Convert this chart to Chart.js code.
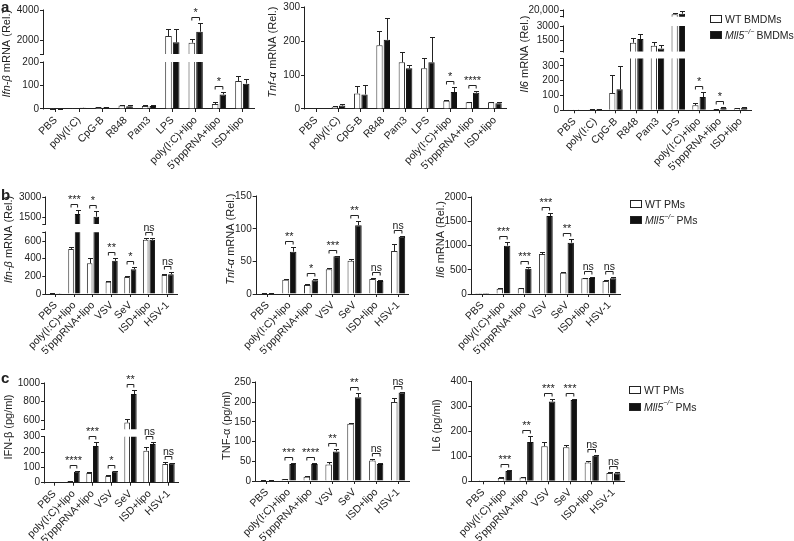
<!DOCTYPE html>
<html>
<head>
<meta charset="utf-8">
<script src="https://cdn.jsdelivr.net/npm/chart.js@4.4.1/dist/chart.umd.min.js"></script>
<style>
  body { margin: 0; background: #fff; width: 794px; height: 541px; overflow: hidden; position: relative;
         font-family: "Liberation Sans", Arial, Helvetica, sans-serif; color: #222; }
  canvas { position: absolute; left: 0; top: 0; }
  .letter { position: absolute; font-weight: bold; font-size: 15px; line-height: 1; }
  .legend { position: absolute; font-size: 10.5px; }
  .legend div { display: flex; align-items: center; white-space: nowrap; }
  .sw { display: inline-block; width: 12px; height: 8px; border: 1px solid #222; box-sizing: border-box; margin-right: 3px; background: #fff; }
  .sw.ko { background: #111; }
  .sup { font-size: 7px; position: relative; top: -4px; font-style: italic; margin-right: 2px; }
</style>
</head>
<body>
<canvas id="a1" width="794" height="541"></canvas>
<canvas id="a2" width="794" height="541"></canvas>
<canvas id="a3" width="794" height="541"></canvas>
<canvas id="b1" width="794" height="541"></canvas>
<canvas id="b2" width="794" height="541"></canvas>
<canvas id="b3" width="794" height="541"></canvas>
<canvas id="c1" width="794" height="541"></canvas>
<canvas id="c2" width="794" height="541"></canvas>
<canvas id="c3" width="794" height="541"></canvas>

<div class="letter" style="left:1px;top:-1px">a</div>
<div class="letter" style="left:1px;top:187px">b</div>
<div class="letter" style="left:1px;top:370px">c</div>

<div class="legend" style="left:710px;top:11px">
  <div style="height:16px"><span class="sw"></span>WT BMDMs</div>
  <div style="height:16px"><span class="sw ko"></span><i>Mll5</i><span class="sup">−/−</span>BMDMs</div>
</div>
<div class="legend" style="left:630px;top:196px">
  <div style="height:16px"><span class="sw"></span>WT PMs</div>
  <div style="height:16px"><span class="sw ko"></span><i>Mll5</i><span class="sup">−/−</span>PMs</div>
</div>
<div class="legend" style="left:629px;top:381px">
  <div style="height:17px"><span class="sw"></span>WT PMs</div>
  <div style="height:17px"><span class="sw ko"></span><i>Mll5</i><span class="sup">−/−</span>PMs</div>
</div>

<script>
// ---- categories ----
const catsA = ['PBS', 'poly(I:C)', 'CpG-B', 'R848', 'Pam3', 'LPS', 'poly(I:C)+lipo', "5'pppRNA+lipo", 'ISD+lipo'];
const catsBC = ['PBS', 'poly(I:C)+lipo', "5'pppRNA+lipo", 'VSV', 'SeV', 'ISD+lipo', 'HSV-1'];

// ---- a: BMDMs mRNA ----
const ifnA_wt    = [1, 4, 7, 15, 13, 2310, 1870, 21, 119];
const ifnA_wtErr = [1, 1, 2, 3, 2, 440, 220, 10, 20];
const ifnA_ko    = [1, 5, 6, 12, 13, 1895, 2590, 62, 108];
const ifnA_koErr = [1, 1, 1, 3, 2, 855, 590, 12, 20];
const ifnA_sig   = ['', '', '', '', '', '', '*', '*', ''];
const ifnA_ticks = [0, 100, 200, 2000, 4000];

const tnfA_wt    = [1, 7, 46, 188, 138, 120, 24, 20, 20];
const tnfA_wtErr = [0.5, 3, 23, 43, 29, 29, 3, 2, 2];
const tnfA_ko    = [1, 10, 43, 204, 120, 138, 50, 48, 17];
const tnfA_koErr = [0.5, 4, 29, 63, 10, 73, 16, 4, 3];
const tnfA_sig   = ['', '', '', '', '', '', '*', '****', ''];
const tnfA_ticks = [0, 100, 200, 300];

const il6A_wt    = [2, 5, 117, 1295, 990, 14900, 34, 7, 14];
const il6A_wtErr = [1, 2, 125, 445, 410, 1900, 13, 4, 4];
const il6A_ko    = [3, 7, 142, 1670, 715, 15600, 90, 16, 18];
const il6A_koErr = [1, 2, 156, 550, 375, 3200, 32, 6, 6];
const il6A_sig   = ['', '', '', '', '', '', '*', '*', ''];
const il6A_ticks = [0, 100, 200, 300, 1500, 3000, 20000];

// ---- b: PMs mRNA ----
const ifnB_wt    = [5, 512, 349, 140, 194, 615, 216];
const ifnB_wtErr = [1, 23, 57, 8, 11, 19, 15];
const ifnB_ko    = [2, 1746, 1549, 376, 281, 615, 224];
const ifnB_koErr = [1, 294, 418, 38, 30, 19, 26];
const ifnB_sig   = ['', '***', '*', '**', '*', 'ns', 'ns'];
const ifnB_ticks = [0, 200, 400, 600, 1500, 3000];

const tnfB_wt    = [1, 21.7, 14, 38, 51, 23, 66];
const tnfB_wtErr = [0.3, 1.5, 1, 1.5, 2.5, 2, 11];
const tnfB_ko    = [1, 65, 21, 58, 105.6, 20, 88];
const tnfB_koErr = [0.3, 7, 2, 1, 6.5, 1, 1];
const tnfB_sig   = ['', '**', '*', '***', '**', 'ns', 'ns'];
const tnfB_ticks = [0, 50, 100, 150];

const il6B_wt    = [2, 110, 117, 825, 440, 323, 268];
const il6B_wtErr = [1, 14, 13, 41, 20, 14, 14];
const il6B_ko    = [2, 997, 522, 1608, 1058, 330, 323];
const il6B_koErr = [1, 82, 28, 55, 69, 20, 21];
const il6B_sig   = ['', '***', '***', '***', '**', 'ns', 'ns'];
const il6B_ticks = [0, 500, 1000, 1500, 2000];

// ---- c: PMs protein ----
const ifnC_wt    = [2, 9, 63, 43, 572, 209, 122];
const ifnC_wtErr = [1, 4, 4, 8, 35, 26, 15];
const ifnC_ko    = [1, 72, 239, 74, 883, 252, 126];
const ifnC_koErr = [0.5, 6, 24, 4, 45, 11, 4];
const ifnC_sig   = ['', '****', '***', '*', '**', 'ns', 'ns'];
const ifnC_ticks = [0, 100, 200, 300, 600, 800, 1000];

const tnfC_wt    = [1, 5, 11, 42, 145, 52, 200];
const tnfC_wtErr = [0.5, 1, 2, 5, 3, 3, 10];
const tnfC_ko    = [1, 43, 43, 75, 212, 43, 224];
const tnfC_koErr = [0.5, 2, 2, 6, 10, 2, 2];
const tnfC_sig   = ['', '***', '****', '**', '**', 'ns', 'ns'];
const tnfC_ticks = [0, 50, 100, 150, 200, 250];

const il6C_wt    = [2, 13, 15, 141, 137, 76, 33];
const il6C_wtErr = [1, 3, 2, 17, 8, 6, 3];
const il6C_ko    = [1, 41, 158, 320, 327, 103, 32];
const il6C_koErr = [0.5, 3, 23, 9, 5, 4, 4];
const il6C_sig   = ['', '***', '**', '***', '***', 'ns', 'ns'];
const il6C_ticks = [0, 100, 200, 300, 400];

// ---- panel layout: chart area [left, top, right, bottom], axis segments [min, max, fracFrom, fracTo] ----
const PANELS = [
  { id: 'a1', cats: catsA, wt: ifnA_wt, wtErr: ifnA_wtErr, ko: ifnA_ko, koErr: ifnA_koErr, sig: ifnA_sig, ticks: ifnA_ticks,
    segs: [[0, 200, 0, 0.476], [1125, 4000, 0.557, 1]], area: [44, 10.3, 254, 109], catPct: 0.66,
    title: [['Ifn-β', true], [' mRNA (Rel.)', false]], titleX: 7 },
  { id: 'a2', cats: catsA, wt: tnfA_wt, wtErr: tnfA_wtErr, ko: tnfA_ko, koErr: tnfA_koErr, sig: tnfA_sig, ticks: tnfA_ticks,
    segs: [[0, 300, 0, 1]], area: [305, 7.3, 506, 109], catPct: 0.66,
    title: [['Tnf-α', true], [' mRNA (Rel.)', false]], titleX: 273 },
  { id: 'a3', cats: catsA, wt: il6A_wt, wtErr: il6A_wtErr, ko: il6A_ko, koErr: il6A_koErr, sig: il6A_sig, ticks: il6A_ticks,
    segs: [[0, 350, 0, 0.516], [400, 3000, 0.586, 0.84], [12000, 20000, 0.933, 1]], area: [564, 10, 751, 110.3], catPct: 0.7,
    title: [['Il6', true], [' mRNA (Rel.)', false]], titleX: 525 },
  { id: 'b1', cats: catsBC, wt: ifnB_wt, wtErr: ifnB_wtErr, ko: ifnB_ko, koErr: ifnB_koErr, sig: ifnB_sig, ticks: ifnB_ticks,
    segs: [[0, 700, 0, 0.636], [1000, 3000, 0.721, 1]], area: [46.3, 197, 177, 294], catPct: 0.7,
    title: [['Ifn-β', true], [' mRNA (Rel.)', false]], titleX: 9 },
  { id: 'b2', cats: catsBC, wt: tnfB_wt, wtErr: tnfB_wtErr, ko: tnfB_ko, koErr: tnfB_koErr, sig: tnfB_sig, ticks: tnfB_ticks,
    segs: [[0, 150, 0, 1]], area: [256.7, 196.3, 409, 294], catPct: 0.7,
    title: [['Tnf-α', true], [' mRNA (Rel.)', false]], titleX: 231 },
  { id: 'b3', cats: catsBC, wt: il6B_wt, wtErr: il6B_wtErr, ko: il6B_ko, koErr: il6B_koErr, sig: il6B_sig, ticks: il6B_ticks,
    segs: [[0, 2000, 0, 1]], area: [471.7, 197, 620, 294], catPct: 0.7,
    title: [['Il6', true], [' mRNA (Rel.)', false]], titleX: 441 },
  { id: 'c1', cats: catsBC, wt: ifnC_wt, wtErr: ifnC_wtErr, ko: ifnC_ko, koErr: ifnC_koErr, sig: ifnC_sig, ticks: ifnC_ticks,
    segs: [[0, 300, 0, 0.463], [500, 1000, 0.538, 1]], area: [45, 383.3, 178, 482.7], catPct: 0.7,
    title: [['IFN-β (pg/ml)', false]], titleX: 9 },
  { id: 'c2', cats: catsBC, wt: tnfC_wt, wtErr: tnfC_wtErr, ko: tnfC_ko, koErr: tnfC_koErr, sig: tnfC_sig, ticks: tnfC_ticks,
    segs: [[0, 250, 0, 1]], area: [256, 382.3, 409, 481], catPct: 0.7,
    title: [['TNF-α (pg/ml)', false]], titleX: 227 },
  { id: 'c3', cats: catsBC, wt: il6C_wt, wtErr: il6C_wtErr, ko: il6C_ko, koErr: il6C_koErr, sig: il6C_sig, ticks: il6C_ticks,
    segs: [[0, 400, 0, 1]], area: [472.3, 381.7, 624.3, 481.3], catPct: 0.7,
    title: [['IL6 (pg/ml)', false]], titleX: 437 }
];
const BY_ID = {};
PANELS.forEach(p => { BY_ID[p.id] = p; });

const FONT = '"Liberation Sans", Arial, Helvetica, sans-serif';
const INK = '#222';
Chart.defaults.font.family = FONT;
Chart.defaults.font.size = 10;
Chart.defaults.color = INK;
Chart.defaults.animation = false;

// linear scale with piecewise (broken) mapping
class BrokenScale extends Chart.LinearScale {
  getPixelForValue(value) {
    const p = BY_ID[this.chart.canvas.id];
    if (!p || value == null || isNaN(value)) return super.getPixelForValue(value);
    const knots = [];
    p.segs.forEach(s => { knots.push([s[0], s[2]], [s[1], s[3]]); });
    let k = 0;
    while (k < knots.length - 2 && value > knots[k + 1][0]) k++;
    const [v0, f0] = knots[k], [v1, f1] = knots[k + 1];
    return this.getPixelForDecimal(f0 + (value - v0) / (v1 - v0) * (f1 - f0));
  }
}
BrokenScale.id = 'broken';
BrokenScale.defaults = Chart.LinearScale.defaults;
Chart.register(BrokenScale);

// clip bars to segments, draw error bars, broken y axis line, significance brackets, y title
const decor = {
  id: 'decor',
  beforeDatasetsDraw(chart) {
    const p = BY_ID[chart.canvas.id];
    const { ctx, chartArea: a, scales: { y } } = chart;
    ctx.save();
    ctx.beginPath();
    p.segs.forEach((s, i) => {
      const top = i === p.segs.length - 1 ? 0 : y.getPixelForValue(s[1]);
      const bot = i === 0 ? a.bottom + 2 : y.getPixelForValue(s[0]);
      ctx.rect(a.left - 5, top, a.right - a.left + 10, bot - top);
    });
    ctx.clip();
  },
  afterDatasetsDraw(chart) {
    const p = BY_ID[chart.canvas.id];
    const { ctx, chartArea: a, scales: { y } } = chart;
    const m0 = chart.getDatasetMeta(0).data, m1 = chart.getDatasetMeta(1).data;
    ctx.strokeStyle = INK;
    ctx.lineWidth = 1;

    // error bars (upper only)
    [[m0, p.wt, p.wtErr], [m1, p.ko, p.koErr]].forEach(([bars, vals, errs]) => {
      bars.forEach((bar, j) => {
        const x = Math.round(bar.x) + 0.5;
        const y0 = y.getPixelForValue(vals[j]);
        const y1 = Math.round(y.getPixelForValue(vals[j] + errs[j])) + 0.5;
        ctx.beginPath();
        ctx.moveTo(x, y0);
        ctx.lineTo(x, y1);
        ctx.moveTo(x - 2.5, y1);
        ctx.lineTo(x + 2.5, y1);
        ctx.stroke();
      });
    });
    ctx.restore();

    // y axis line, one piece per segment
    ctx.save();
    ctx.strokeStyle = INK;
    ctx.lineWidth = 1;
    const ax = Math.round(a.left) - 0.5;
    p.segs.forEach((s, i) => {
      const yb = i === 0 ? a.bottom : y.getPixelForValue(s[0]);
      ctx.beginPath();
      ctx.moveTo(ax, Math.round(yb) + 0.5);
      ctx.lineTo(ax, Math.round(y.getPixelForValue(s[1])) - 0.5);
      ctx.stroke();
    });

    // significance brackets
    p.sig.forEach((s, j) => {
      if (!s) return;
      const xa = m0[j].x, xb = m1[j].x;
      const top = Math.min(y.getPixelForValue(p.wt[j] + p.wtErr[j]), y.getPixelForValue(p.ko[j] + p.koErr[j]));
      const by = Math.round(top - 6) + 0.5;
      ctx.beginPath();
      ctx.moveTo(xa, by + 3);
      ctx.lineTo(xa, by);
      ctx.lineTo(xb, by);
      ctx.lineTo(xb, by + 3);
      ctx.stroke();
      ctx.fillStyle = INK;
      ctx.font = (s === 'ns' ? '10.5px ' : '11px ') + FONT;
      ctx.textAlign = 'center';
      ctx.textBaseline = 'alphabetic';
      ctx.fillText(s, (xa + xb) / 2, by - 2);
    });

    // y axis title with italic gene names
    ctx.translate(p.titleX, (a.top + a.bottom) / 2 - 6);
    ctx.rotate(-Math.PI / 2);
    ctx.textBaseline = 'middle';
    ctx.textAlign = 'left';
    const fonts = p.title.map(([, it]) => (it ? 'italic ' : '') + '11px ' + FONT);
    let total = 0;
    p.title.forEach(([t], i) => { ctx.font = fonts[i]; total += ctx.measureText(t).width; });
    let cx = -total / 2;
    p.title.forEach(([t], i) => {
      ctx.font = fonts[i];
      ctx.fillText(t, cx, 0);
      cx += ctx.measureText(t).width;
    });
    ctx.restore();
  }
};

const fmtTick = v => (v >= 10000 ? v.toLocaleString('en-US') : String(v));

PANELS.forEach(p => {
  const [L, T, R, B] = p.area;
  const tickVals = [...new Set(p.ticks.concat(p.segs.length > 1 ? p.segs.flatMap(s => [s[0], s[1]]) : []))].sort((m, n) => m - n);
  new Chart(document.getElementById(p.id), {
    type: 'bar',
    data: {
      labels: p.cats,
      datasets: [
        { label: 'WT', data: p.wt, backgroundColor: '#fff', borderColor: '#333', borderWidth: 1 },
        { label: 'Mll5-/-', data: p.ko, backgroundColor: '#111', borderColor: '#111', borderWidth: 1 }
      ]
    },
    options: {
      responsive: false,
      events: [],
      categoryPercentage: p.catPct,
      barPercentage: 0.86,
      layout: { padding: { left: L - 40, top: T, right: 794 - R, bottom: 541 - B - 70 } },
      plugins: { legend: { display: false }, tooltip: { enabled: false } },
      scales: {
        x: {
          grid: { display: true, drawOnChartArea: false, offset: false, tickLength: 3, color: INK },
          border: { display: true, color: INK, width: 1 },
          ticks: { autoSkip: false, minRotation: 45, maxRotation: 45, padding: 2, color: INK, font: { size: 10.5 } },
          afterFit: s => { s.height = 70; s.paddingLeft = 0; s.paddingRight = 0; }
        },
        y: {
          type: 'broken',
          min: 0,
          max: p.segs[p.segs.length - 1][1],
          grid: { display: true, drawOnChartArea: false, tickLength: 4, color: INK },
          border: { display: false },
          ticks: {
            autoSkip: false, padding: 1, color: INK, font: { size: 10 },
            callback: v => (p.ticks.includes(v) ? fmtTick(v) : '')
          },
          afterBuildTicks: s => { s.ticks = tickVals.map(v => ({ value: v })); },
          afterFit: s => { s.width = 40; s.paddingTop = 0; s.paddingBottom = 0; }
        }
      }
    },
    plugins: [decor]
  });
});
</script>
</body>
</html>
